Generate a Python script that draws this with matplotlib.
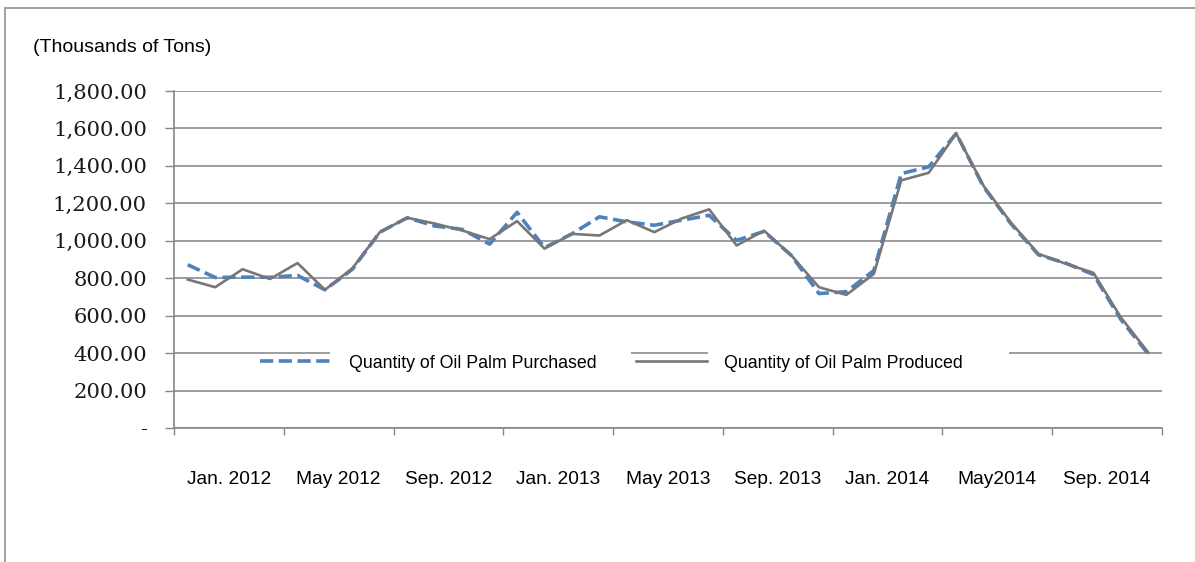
import matplotlib
matplotlib.use("Agg")
import matplotlib.pyplot as plt
from matplotlib.patches import Rectangle
from matplotlib.ticker import FuncFormatter, FixedLocator

# Monthly series, Jan. 2012 - Dec. 2014 (thousands of tons)
purchased = [872, 804, 806, 805, 815, 738, 848, 1046, 1123, 1079, 1061, 982,
             1152, 963, 1037, 1128, 1101, 1083, 1110, 1136, 1002, 1050, 921, 718,
             728, 841, 1359, 1395, 1573, 1288, 1090, 925, 880, 820, 580, 395]
produced = [793, 752, 848, 796, 881, 738, 853, 1046, 1123, 1092, 1055, 1009,
            1105, 958, 1037, 1028, 1110, 1046, 1119, 1168, 975, 1054, 921, 752,
            711, 823, 1323, 1363, 1573, 1293, 1096, 930, 877, 829, 591, 403]
period_labels = ["Jan. 2012", "May 2012", "Sep. 2012", "Jan. 2013", "May 2013",
                 "Sep. 2013", "Jan. 2014", "May2014", "Sep. 2014"]
series_names = ["Quantity of Oil Palm Purchased", "Quantity of Oil Palm Produced"]
y_ticks = [0, 200, 400, 600, 800, 1000, 1200, 1400, 1600, 1800]

W, H = 1195, 562
fig = plt.figure(figsize=(W / 100, H / 100), dpi=100)
plt.rcParams["lines.scale_dashes"] = False

ax = fig.add_axes([174 / W, 1 - 428 / H, (1162 - 174) / W, (428 - 91) / H])

months = list(range(len(purchased)))
blue = "#4F81BD"
grey = "#777777"
ax.plot(months, purchased, color=blue, lw=2.6, linestyle=(0, (9.5, 4.0)),
        dash_capstyle="butt", zorder=3, label=series_names[0])
ax.plot(months, produced, color=grey, lw=1.9, zorder=4, label=series_names[1])

ax.set_xlim(-0.5, len(months) - 0.5)
ax.set_ylim(0, 1800)

# y axis
ax.set_yticks(y_ticks)
ax.yaxis.set_major_formatter(FuncFormatter(lambda v, p: "-" if v == 0 else f"{v:,.2f}"))
ax.tick_params(axis="y", length=6.5, width=1.0, color="#868686", pad=13,
               labelsize=15.2, labelcolor="#1a1a1a")
for lab in ax.get_yticklabels():
    lab.set_fontfamily("DejaVu Serif")

# x axis: tick marks between 4-month groups, labels at group centres
ax.xaxis.set_major_locator(FixedLocator([k - 0.5 for k in range(0, len(months) + 1, 4)]))
ax.xaxis.set_minor_locator(FixedLocator([k + 1.5 for k in range(0, len(months), 4)]))
ax.set_xticklabels([])
ax.set_xticklabels(period_labels, minor=True)
ax.tick_params(axis="x", which="major", length=5, width=1.0, color="#868686")
ax.tick_params(axis="x", which="minor", length=0, pad=31, labelsize=13.8,
               labelcolor="black")
for lab in ax.get_xticklabels(minor=True):
    lab.set_fontfamily("Liberation Sans")

ax.grid(axis="y", color="#8c8c8c", lw=1.2)
ax.set_axisbelow(True)
for side in ("top", "right"):
    ax.spines[side].set_visible(False)
for side in ("left", "bottom"):
    ax.spines[side].set_color("#868686")
    ax.spines[side].set_linewidth(1.2)

# white panels behind the legend labels
for x0, x1 in ((330, 631), (708, 1009)):
    ax.add_patch(Rectangle((x0 / W, 1 - 387 / H), (x1 - x0) / W, 46 / H,
                           transform=fig.transFigure, facecolor="white",
                           edgecolor="none", zorder=1, clip_on=False))

leg = ax.legend(ncol=2, loc="center left", bbox_to_anchor=(251 / W, 1 - 363 / H),
                bbox_transform=fig.transFigure, frameon=False, borderpad=0,
                handlelength=4.0, handletextpad=1.0, columnspacing=2.2,
                prop={"family": "Liberation Sans", "size": 12.8})
leg.set_zorder(6)

fig.text(33 / W, 1 - 47 / H, "(Thousands of Tons)", fontsize=14.0,
         family="Liberation Sans", va="center", ha="left")

# outer chart frame
fig.add_artist(Rectangle((5 / W, -0.05), 1.2, 1 - 8 / H + 0.05,
                         transform=fig.transFigure, facecolor="none",
                         edgecolor="#9a9a9a", lw=1.3))

fig.savefig("out.png", dpi=100, facecolor="white")
